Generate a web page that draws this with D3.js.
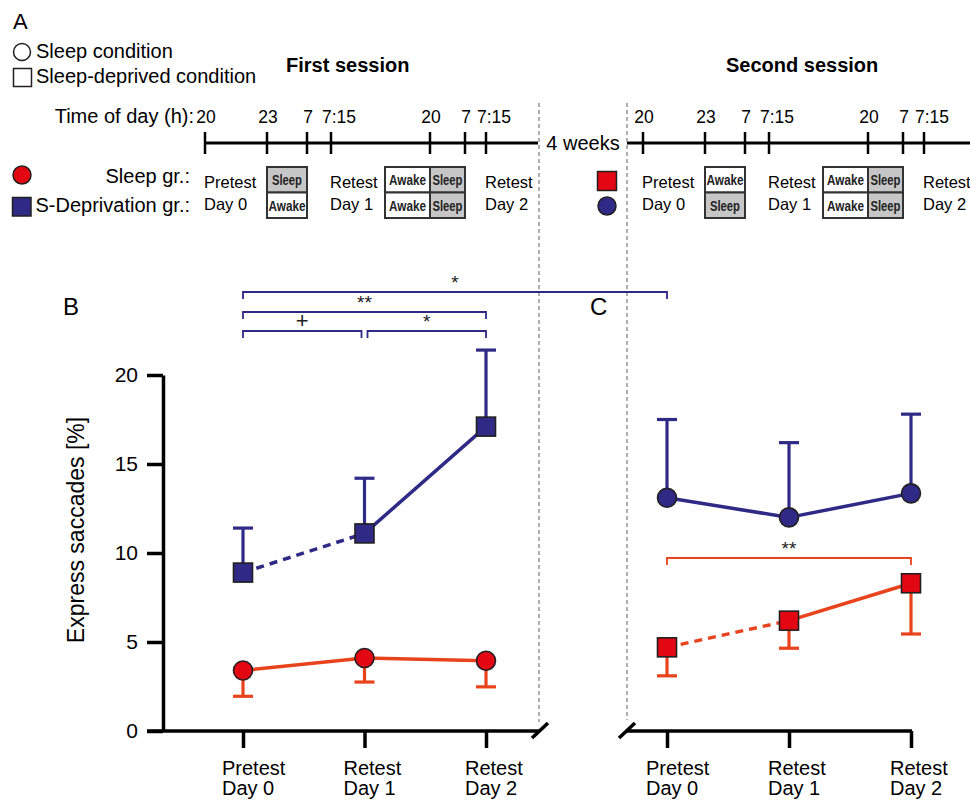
<!DOCTYPE html>
<html><head><meta charset="utf-8">
<script src="https://cdn.jsdelivr.net/npm/d3@7"></script>
<style>body{margin:0;background:#fff}</style>
</head><body><svg id="c" width="970" height="800"></svg>
<script>
// ---------------- data ----------------
const days = ["Pretest|Day 0", "Retest|Day 1", "Retest|Day 2"];
const yTicks = [0, 5, 10, 15, 20];
// Panel B: first session
const bDeprivedMean = [8.9, 11.1, 17.1];   // S-Deprivation group, sleep-deprived condition (squares)
const bDeprivedErr  = [2.5, 3.1, 4.3];
const bSleepMean    = [3.4, 4.1, 3.95];    // Sleep group, sleep condition (circles)
const bSleepErr     = [1.45, 1.35, 1.47];
// Panel C: second session
const cSleepMean    = [13.1, 12.0, 13.35]; // S-Deprivation group, sleep condition (circles)
const cSleepErr     = [4.4, 4.2, 4.45];
const cDeprivedMean = [4.7, 6.2, 8.3];     // Sleep group, sleep-deprived condition (squares)
const cDeprivedErr  = [1.6, 1.55, 2.85];
// Timeline
const timeLabels = ["20", "23", "7", "7:15", "20", "7", "7:15"];
const sessionTitles = ["First session", "Second session"];
const sessionTests = ["Pretest|Day 0", "Retest|Day 1", "Retest|Day 2"];
const night1First  = ["Sleep", "Awake"];   // rows: Sleep gr., S-Deprivation gr.
const night1Second = ["Awake", "Sleep"];
const night2Day    = ["Awake", "Awake"];
const night2Night  = ["Sleep", "Sleep"];
// Significance
const bSig = [
  {a: 0, b: 1, label: "+"},
  {a: 1, b: 2, label: "*"},
  {a: 0, b: 2, label: "**"}
];
const crossSigLabel = "*";
const cSigLabel = "**";

// ---------------- layout / style ----------------
const FONT = "'Liberation Sans', Arial, Helvetica, sans-serif";
const blue = "#2e2a86", redFill = "#e30613", redLine = "#e8431c", edge = "#231f20";
const svg = d3.select("#c");
const y = d3.scaleLinear().domain([0, 20]).range([731, 375]);
const xB = d3.scalePoint().domain(days).range([243, 486]);
const xC = d3.scalePoint().domain(days).range([667, 911]);
const tickOffsets = [0, 62, 102, 126, 225, 260, 281];
const sessionStarts = [205, 643];

function txt(g, x, yy, s, size, opts = {}) {
  return g.append("text").attr("x", x).attr("y", yy).text(s)
    .attr("font-family", opts.family || FONT).attr("font-size", size)
    .attr("font-weight", opts.weight || "normal")
    .attr("text-anchor", opts.anchor || "start").attr("fill", opts.fill || "#000");
}
function twoLine(g, x, y1, y2, s, size) {
  const [a, b] = s.split("|");
  txt(g, x, y1, a, size); txt(g, x, y2, b, size);
}

// ---------------- Panel A ----------------
const A = svg.append("g");
txt(A, 13, 29, "A", 22);
A.append("circle").attr("cx", 22).attr("cy", 52).attr("r", 8.5).attr("fill", "#fff").attr("stroke", edge).attr("stroke-width", 1.5);
txt(A, 36, 58, "Sleep condition", 20);
A.append("rect").attr("x", 13.5).attr("y", 68.5).attr("width", 18).attr("height", 18).attr("fill", "#fff").attr("stroke", edge).attr("stroke-width", 1.5);
txt(A, 36, 83, "Sleep-deprived condition", 20);
txt(A, 286, 72, sessionTitles[0], 20, {weight: "bold"});
txt(A, 726, 72, sessionTitles[1], 20, {weight: "bold"});
txt(A, 194, 123, "Time of day (h):", 20, {anchor: "end"});

// timeline lines
A.append("line").attr("x1", 205).attr("x2", 538).attr("y1", 143).attr("y2", 143).attr("stroke", "#000").attr("stroke-width", 3);
A.append("line").attr("x1", 627).attr("x2", 970).attr("y1", 143).attr("y2", 143).attr("stroke", "#000").attr("stroke-width", 3);
txt(A, 583, 150, "4 weeks", 20, {anchor: "middle"});

sessionStarts.forEach((s0, si) => {
  const tx = tickOffsets.map(o => s0 + o);
  tx.forEach((x, i) => {
    A.append("line").attr("x1", x).attr("x2", x).attr("y1", 132).attr("y2", 154).attr("stroke", "#000").attr("stroke-width", 2.5);
    const lab = timeLabels[i];
    if (lab === "7:15") txt(A, x - 9, 123, lab, 17.5);
    else txt(A, x + 1, 123, lab, 17.5, {anchor: "middle"});
  });
  // tests text
  [0, 3, 6].forEach((ti, k) => twoLine(A, tx[ti] - 1, 188, 210, sessionTests[k], 16.5));
  // boxes
  const n1 = si === 0 ? night1First : night1Second;
  const rows = [167, 192.5];
  const rh = 25.5;
  function cell(x1, x2, yy, label) {
    const gray = label === "Sleep";
    A.append("rect").attr("x", x1).attr("y", yy).attr("width", x2 - x1).attr("height", rh)
      .attr("fill", gray ? "#c6c6c6" : "#fff").attr("stroke", "#333").attr("stroke-width", 2);
    const w = label === "Sleep" ? 30 : 37;
    txt(A, (x1 + x2) / 2, yy + 18, label, 15, {weight: "bold", anchor: "middle", fill: "#222"})
      .attr("textLength", w).attr("lengthAdjust", "spacingAndGlyphs");
  }
  rows.forEach((ry, r) => {
    cell(tx[1], tx[2], ry, n1[r]);
    cell(tx[4] - 45, tx[4], ry, night2Day[r]);
    cell(tx[4], tx[5], ry, night2Night[r]);
  });
});
// group labels
txt(A, 190, 183, "Sleep gr.:", 20, {anchor: "end"});
txt(A, 190, 212, "S-Deprivation gr.:", 20, {anchor: "end"});
A.append("circle").attr("cx", 22).attr("cy", 175).attr("r", 9).attr("fill", redFill).attr("stroke", edge).attr("stroke-width", 1.5);
A.append("rect").attr("x", 12.5).attr("y", 197.5).attr("width", 18.5).attr("height", 18.5).attr("fill", blue).attr("stroke", edge).attr("stroke-width", 1.5);
A.append("rect").attr("x", 597.5).attr("y", 171.5).attr("width", 19).attr("height", 19).attr("fill", redFill).attr("stroke", edge).attr("stroke-width", 1.5);
A.append("circle").attr("cx", 607).attr("cy", 206).attr("r", 9).attr("fill", blue).attr("stroke", edge).attr("stroke-width", 1.5);

// gray dashed separators
[[539, 103, 722], [627, 103, 720]].forEach(([x, y1, y2]) => {
  svg.append("line").attr("x1", x).attr("x2", x).attr("y1", y1).attr("y2", y2)
    .attr("stroke", "#9a9a9a").attr("stroke-width", 1.6).attr("stroke-dasharray", "4,3");
});

// ---------------- Panels B & C ----------------
txt(svg, 63, 315, "B", 24);
txt(svg, 590, 315, "C", 24);

// y axis
const yAx = svg.append("g").attr("transform", "translate(163,0)")
  .call(d3.axisLeft(y).tickValues(yTicks).tickSize(16).tickSizeOuter(0).tickPadding(9));
yAx.select(".domain").attr("stroke-width", 3.5).attr("stroke", "#000");
yAx.selectAll(".tick line").attr("stroke-width", 3.5).attr("stroke", "#000");
yAx.selectAll(".tick text").attr("font-family", FONT).attr("font-size", 21).attr("fill", "#000");
svg.append("text").attr("transform", "translate(84,530) rotate(-90)").attr("text-anchor", "middle")
  .attr("font-family", FONT).attr("font-size", 23).text("Express saccades [%]");

function xAxis(x, x1, x2, breakLeft) {
  const g = svg.append("g");
  g.append("line").attr("x1", x1).attr("x2", x2).attr("y1", y(0)).attr("y2", y(0)).attr("stroke", "#000").attr("stroke-width", 3.5);
  const bx = breakLeft ? x1 : x2;
  g.append("line").attr("x1", bx - 8).attr("x2", bx + 8).attr("y1", y(0) + 7).attr("y2", y(0) - 8).attr("stroke", "#000").attr("stroke-width", 3.5);
  const ax = svg.append("g").attr("transform", `translate(0,${y(0)})`)
    .call(d3.axisBottom(x).tickSize(17).tickSizeOuter(0));
  ax.select(".domain").remove();
  ax.selectAll(".tick line").attr("stroke-width", 3.5).attr("stroke", "#000");
  ax.selectAll(".tick text").remove();
  days.forEach(d => twoLine(svg, x(d) - 21, 775, 795, d, 20));
}
xAxis(xB, 147, 540, false);
xAxis(xC, 627, 912, true);

function series(x, means, errs, dir, lineCol, fillCol, shape) {
  const g = svg.append("g");
  const pts = days.map((d, i) => ({x: x(d), m: means[i], e: errs[i]}));
  // error bars
  pts.forEach(p => {
    const ye = y(p.m + dir * p.e);
    g.append("line").attr("x1", p.x).attr("x2", p.x).attr("y1", y(p.m)).attr("y2", ye).attr("stroke", lineCol).attr("stroke-width", 3.2);
    g.append("line").attr("x1", p.x - 10).attr("x2", p.x + 10).attr("y1", ye).attr("y2", ye).attr("stroke", lineCol).attr("stroke-width", 3.2);
  });
  const line = d3.line().x(p => p.x).y(p => y(p.m));
  const dashedFirst = shape === "square";
  g.append("path").attr("d", line(pts.slice(0, 2))).attr("fill", "none").attr("stroke", lineCol)
    .attr("stroke-width", 3.5).attr("stroke-dasharray", dashedFirst ? "8,6" : null);
  g.append("path").attr("d", line(pts.slice(1, 3))).attr("fill", "none").attr("stroke", lineCol).attr("stroke-width", 3.5);
  pts.forEach(p => {
    if (shape === "square") {
      g.append("rect").attr("x", p.x - 9.5).attr("y", y(p.m) - 9.5).attr("width", 19).attr("height", 19)
        .attr("fill", fillCol).attr("stroke", edge).attr("stroke-width", 1.6);
    } else {
      g.append("circle").attr("cx", p.x).attr("cy", y(p.m)).attr("r", 9.5)
        .attr("fill", fillCol).attr("stroke", edge).attr("stroke-width", 1.6);
    }
  });
}
series(xB, bSleepMean, bSleepErr, -1, redLine, redFill, "circle");
series(xB, bDeprivedMean, bDeprivedErr, 1, blue, blue, "square");
series(xC, cSleepMean, cSleepErr, 1, blue, blue, "circle");
series(xC, cDeprivedMean, cDeprivedErr, -1, redLine, redFill, "square");

// significance brackets
function bracket(x1, x2, yy, col, label, lsize) {
  svg.append("path").attr("d", `M${x1},${yy + 7}V${yy}H${x2}V${yy + 7}`)
    .attr("fill", "none").attr("stroke", col).attr("stroke-width", 1.8);
  txt(svg, (x1 + x2) / 2, yy - 3, label, lsize, {anchor: "middle", fill: "#222"});
}
const bLevels = [331, 331, 312];
bSig.forEach((s, i) => {
  let x1 = xB(days[s.a]), x2 = xB(days[s.b]);
  if (i === 0) x2 -= 3;
  if (i === 1) x1 += 3;
  bracket(x1, x2, bLevels[i], blue, s.label, s.label === "+" ? 22 : 19);
});
bracket(xB(days[0]), xC(days[0]), 292, blue, crossSigLabel, 19);
bracket(xC(days[0]), xC(days[2]), 558, redLine, cSigLabel, 19);
</script></body></html>
